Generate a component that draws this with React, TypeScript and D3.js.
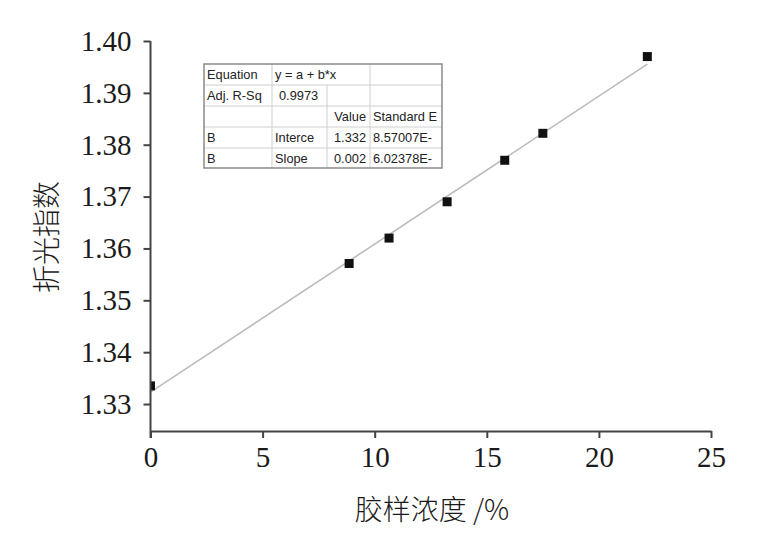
import { useEffect, useRef } from "react"
import * as d3 from "d3"

const concentration = [0, 8.86, 10.64, 13.23, 15.8, 17.5, 22.16]
const refractiveIndex = [1.3335, 1.3571, 1.362, 1.369, 1.377, 1.3822, 1.397]
const xTicks = [0, 5, 10, 15, 20, 25]
const yTicks = [1.33, 1.34, 1.35, 1.36, 1.37, 1.38, 1.39, 1.4]
const tableRows = [
  ["Equation", "y = a + b*x", "", ""],
  ["Adj. R-Sq", "0.9973", "", ""],
  ["", "", "Value", "Standard E"],
  ["B", "Interce", "1.332", "8.57007E-"],
  ["B", "Slope", "0.002", "6.02378E-"],
]

const serif = "'Liberation Serif', 'DejaVu Serif', serif"
const cjk = "'Noto Sans CJK SC', 'Noto Sans CJK JP', sans-serif"

export default function App() {
  const svgRef = useRef<SVGSVGElement | null>(null)

  useEffect(() => {
    if (!svgRef.current) return
    const svg = d3.select(svgRef.current)
    svg.selectAll("*").remove()

    const width = 778
    const height = 547
    const x = d3.scaleLinear().domain([0, 25]).range([150.5, 711])
    const y = d3.scaleLinear().domain([1.3248, 1.4]).range([431, 41])

    const points = concentration.map((c, i) => ({ x: c, y: refractiveIndex[i] }))

    // least squares fit for the straight line
    const mx = d3.mean(concentration) ?? 0
    const my = d3.mean(refractiveIndex) ?? 0
    const sxy = d3.sum(points, (p) => (p.x - mx) * (p.y - my))
    const sxx = d3.sum(points, (p) => (p.x - mx) ** 2)
    const slope = sxy / sxx
    const intercept = my - slope * mx
    const xMax = d3.max(concentration) ?? 0

    svg.attr("width", width).attr("height", height).attr("viewBox", `0 0 ${width} ${height}`)

    const defs = svg.append("defs")
    defs
      .append("clipPath")
      .attr("id", "plot-clip")
      .append("rect")
      .attr("x", x(0))
      .attr("y", y(1.4) - 10)
      .attr("width", x(25) - x(0))
      .attr("height", y(1.3248) - y(1.4) + 10)

    svg
      .append("line")
      .attr("x1", x(0))
      .attr("x2", x(xMax))
      .attr("y1", y(intercept))
      .attr("y2", y(intercept + slope * xMax))
      .attr("stroke", "#bcbcbc")
      .attr("stroke-width", 1.6)

    svg
      .append("g")
      .attr("clip-path", "url(#plot-clip)")
      .selectAll("rect")
      .data(points)
      .join("rect")
      .attr("x", (d) => x(d.x) - 4.5)
      .attr("y", (d) => y(d.y) - 4.5)
      .attr("width", 9)
      .attr("height", 9)
      .attr("fill", "#111")

    const axisStyle = (g: d3.Selection<SVGGElement, unknown, null, undefined>) => {
      g.select(".domain").attr("stroke", "#444").attr("stroke-width", 2)
      g.selectAll(".tick line").attr("stroke", "#444").attr("stroke-width", 2)
      g.selectAll("text")
        .attr("fill", "#1a1a1a")
        .attr("font-size", 29)
        .attr("font-family", serif)
    }

    svg
      .append("g")
      .attr("transform", `translate(0, ${y(1.3248)})`)
      .call(
        d3
          .axisBottom(x)
          .tickValues(xTicks)
          .tickFormat(d3.format("d"))
          .tickSizeInner(7)
          .tickSizeOuter(0)
          .tickPadding(8)
      )
      .call(axisStyle)

    svg
      .append("g")
      .attr("transform", `translate(${x(0)}, 0)`)
      .call(
        d3
          .axisLeft(y)
          .tickValues(yTicks)
          .tickFormat(d3.format(".2f"))
          .tickSizeInner(7)
          .tickSizeOuter(0)
          .tickPadding(12)
      )
      .call(axisStyle)
      .call((g) => g.select(".domain").attr("d", `M0,${y(1.4)}V${y(1.3248) + 7}`))

    // fit results table
    const colX = [204, 272, 327, 370, 442]
    const rowY = [64, 85, 106, 127, 148, 168]

    defs
      .append("clipPath")
      .attr("id", "table-clip")
      .append("rect")
      .attr("x", colX[0])
      .attr("y", rowY[0])
      .attr("width", colX[4] - colX[0] - 1)
      .attr("height", rowY[5] - rowY[0])

    const table = svg
      .append("g")
      .attr("font-family", "'Liberation Sans', Arial, sans-serif")
      .attr("font-size", 12.8)

    table
      .append("rect")
      .attr("x", colX[0])
      .attr("y", rowY[0])
      .attr("width", colX[4] - colX[0])
      .attr("height", rowY[5] - rowY[0])
      .attr("fill", "#fff")

    rowY.slice(1, 5).forEach((ry) => {
      table
        .append("line")
        .attr("x1", colX[0])
        .attr("x2", colX[4])
        .attr("y1", ry)
        .attr("y2", ry)
        .attr("stroke", "#cfcfcf")
    })
    table.append("line").attr("x1", colX[1]).attr("x2", colX[1]).attr("y1", rowY[0]).attr("y2", rowY[5]).attr("stroke", "#cfcfcf")
    table.append("line").attr("x1", colX[2]).attr("x2", colX[2]).attr("y1", rowY[1]).attr("y2", rowY[5]).attr("stroke", "#cfcfcf")
    table.append("line").attr("x1", colX[3]).attr("x2", colX[3]).attr("y1", rowY[0]).attr("y2", rowY[5]).attr("stroke", "#cfcfcf")

    const cells = table.append("g").attr("clip-path", "url(#table-clip)")
    tableRows.forEach((row, ri) => {
      const base = rowY[ri] + 15
      row.forEach((cell, ci) => {
        if (!cell) return
        const t = cells.append("text").text(cell).attr("y", base).attr("fill", "#222")
        if (ci === 2) t.attr("x", colX[3] - 4).attr("text-anchor", "end")
        else if (ci === 1 && ri === 1) t.attr("x", colX[1] + 7)
        else t.attr("x", colX[ci] + 3)
      })
    })

    table
      .append("rect")
      .attr("x", colX[0])
      .attr("y", rowY[0])
      .attr("width", colX[4] - colX[0])
      .attr("height", rowY[5] - rowY[0])
      .attr("fill", "none")
      .attr("stroke", "#8a8a8a")
      .attr("stroke-width", 1.5)

    svg
      .append("text")
      .text("折光指数")
      .attr("transform", `translate(57, 237) rotate(-90)`)
      .attr("text-anchor", "middle")
      .attr("font-family", cjk)
      .attr("font-size", 28)
      .attr("font-weight", 300)
      .attr("fill", "#1a1a1a")

    svg
      .append("text")
      .text("胶样浓度 /%")
      .attr("x", 432)
      .attr("y", 520)
      .attr("text-anchor", "middle")
      .attr("font-family", cjk)
      .attr("font-size", 28)
      .attr("font-weight", 300)
      .attr("fill", "#1a1a1a")
  }, [])

  return (
    <div style={{ position: "absolute", left: 0, top: 0 }}>
      <svg ref={svgRef} style={{ display: "block", background: "#fff" }} />
    </div>
  )
}
